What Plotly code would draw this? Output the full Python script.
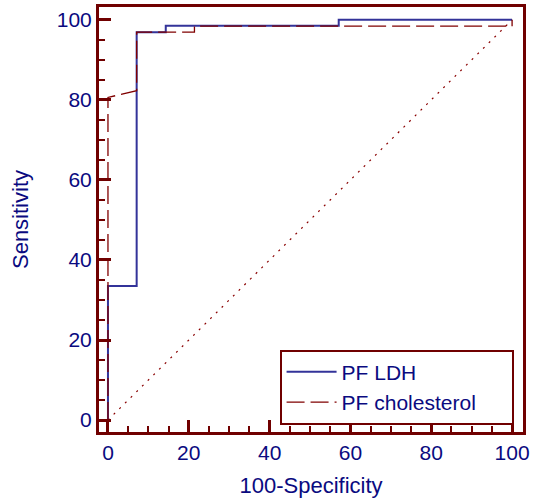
import plotly.graph_objects as go

# ROC data (100-Specificity, Sensitivity)
ldh_x = [0, 0, 7.1, 7.1, 14.3, 14.3, 57.1, 57.1, 100]
ldh_y = [0, 33.5, 33.5, 96.9, 96.9, 98.5, 98.5, 100, 100]

chol_x = [0, 0, 7.1, 7.1, 21.4, 21.4, 100, 100]
chol_y = [0, 80.6, 82.3, 96.9, 96.9, 98.4, 98.4, 100]

diag_x = [0, 100]
diag_y = [0, 100]

series_names = ["PF LDH", "PF cholesterol"]
tick_vals = [0, 20, 40, 60, 80, 100]

FRAME = "#700000"
NAVY = "#0A0A80"
BLUE = "#333399"
FONT = "Liberation Sans, Arial"
W, H = 534, 499
L, R, T, B = 99, 10, 4, 67

fig = go.Figure()
fig.add_trace(go.Scatter(x=diag_x, y=diag_y, mode="lines", showlegend=False,
                         line=dict(color="#8A0000", width=1.2, dash="2px,6px"), hoverinfo="skip"))
fig.add_trace(go.Scatter(x=ldh_x, y=ldh_y, mode="lines", name=series_names[0],
                         line=dict(color=BLUE, width=2)))
fig.add_trace(go.Scatter(x=chol_x, y=chol_y, mode="lines", name=series_names[1],
                         line=dict(color="#800000", width=1.3, dash="18px,6px")))

axis_common = dict(
    showgrid=False, zeroline=False, showline=True, linecolor=FRAME, linewidth=3, mirror=True,
    ticks="inside", ticklen=12, tickwidth=3, tickcolor=FRAME,
    tickvals=tick_vals,
    tickfont=dict(family=FONT, size=21, color=NAVY),
    minor=dict(ticks="inside", ticklen=6, tickwidth=2, tickcolor=FRAME, dtick=5, showgrid=False),
)

fig.update_xaxes(range=[-2.22, 102.7],
                 title=dict(text="100-Specificity", font=dict(family=FONT, size=22, color=NAVY), standoff=15),
                 **axis_common)
fig.update_yaxes(range=[-2.98, 103.2],
                 title=dict(text="Sensitivity", font=dict(family=FONT, size=22, color=NAVY), standoff=23),
                 **axis_common)

pw = W - L - R
ph = H - T - B
fig.update_layout(
    width=W, height=H,
    margin=dict(l=L, r=R, t=T, b=B),
    plot_bgcolor="white", paper_bgcolor="white",
    legend=dict(orientation="h", x=(280 - L) / pw, y=(H - B - 349) / ph, xanchor="left", yanchor="top",
                bordercolor=FRAME, borderwidth=2, bgcolor="white",
                font=dict(family=FONT, size=21, color=NAVY),
                itemwidth=50, entrywidth=165, tracegroupgap=0),
)

fig.write_html("out.html")
